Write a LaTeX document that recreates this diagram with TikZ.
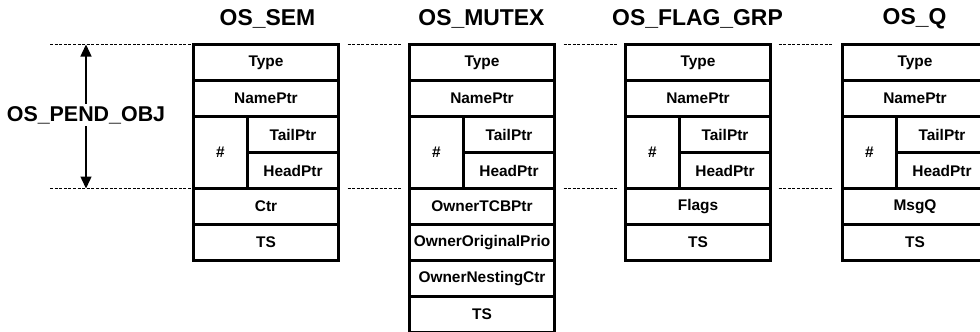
\documentclass[tikz,border=0pt]{standalone}
\usepackage{fontspec}
\setmainfont{Liberation Sans}
\usetikzlibrary{arrows.meta}
\begin{document}
\begin{tikzpicture}[x=1bp,y=-1bp,
  cell/.style={draw,line width=2.8bp,anchor=north west,inner sep=0pt,outer sep=0pt,
    minimum width=145bp,minimum height=36bp,font=\fontsize{15.5}{18}\selectfont\bfseries},
  half/.style={cell,minimum width=91bp},
  hash/.style={cell,minimum width=54bp,minimum height=72bp},
  title/.style={font=\fontsize{23}{26}\selectfont\bfseries,inner sep=0pt},
  guide/.style={line width=1bp,dash pattern=on 3bp off 1.6bp}]
\clip (0,0) rectangle (980,331);
% ---------- OS_SEM ----------
\node[cell] (s1) at (193.5,44.5) {Type};
\node[cell] (s2) at (193.5,80.5) {NamePtr};
\node[hash] (s3) at (193.5,116.5) {\#};
\node[half] (s4) at (247.5,116.5) {TailPtr};
\node[half] (s5) at (247.5,152.5) {HeadPtr};
\node[cell] (s6) at (193.5,188.5) {Ctr};
\node[cell] (s7) at (193.5,224.5) {TS};
\node[title] (ts) at (267.5,19) {OS\_SEM};
% ---------- OS_MUTEX ----------
\node[cell] (m1) at (409.5,44.5) {Type};
\node[cell] (m2) at (409.5,80.5) {NamePtr};
\node[hash] (m3) at (409.5,116.5) {\#};
\node[half] (m4) at (463.5,116.5) {TailPtr};
\node[half] (m5) at (463.5,152.5) {HeadPtr};
\node[cell] (m6) at (409.5,188.5) {OwnerTCBPtr};
\node[cell] (m7) at (409.5,224.5) {OwnerOriginalPrio};
\node[cell] (m8) at (409.5,260.5) {OwnerNestingCtr};
\node[cell] (m9) at (409.5,296.5) {TS};
\node[title] (tm) at (481.5,19) {OS\_MUTEX};
% ---------- OS_FLAG_GRP ----------
\node[cell] (f1) at (625.5,44.5) {Type};
\node[cell] (f2) at (625.5,80.5) {NamePtr};
\node[hash] (f3) at (625.5,116.5) {\#};
\node[half] (f4) at (679.5,116.5) {TailPtr};
\node[half] (f5) at (679.5,152.5) {HeadPtr};
\node[cell] (f6) at (625.5,188.5) {Flags};
\node[cell] (f7) at (625.5,224.5) {TS};
\node[title] (tf) at (697.5,19) {OS\_FLAG\_GRP};
% ---------- OS_Q ----------
\node[cell] (q1) at (842.5,44.5) {Type};
\node[cell] (q2) at (842.5,80.5) {NamePtr};
\node[hash] (q3) at (842.5,116.5) {\#};
\node[half] (q4) at (896.5,116.5) {TailPtr};
\node[half] (q5) at (896.5,152.5) {HeadPtr};
\node[cell] (q6) at (842.5,188.5) {MsgQ};
\node[cell] (q7) at (842.5,224.5) {TS};
\node[title] (tq) at (914.5,19) {OS\_Q};
% ---------- guides ----------
\coordinate (gl1) at (50,44.5);
\coordinate (gl2) at (50,188.5);
\draw[guide] (gl1) -- (s1.north west);
\draw[guide] (gl2) -- (s6.north west);
\draw[guide] ([xshift=9bp]s1.north east) -- ([xshift=-9bp]m1.north west);
\draw[guide] ([xshift=9bp]s6.north east) -- ([xshift=-9bp]m6.north west);
\draw[guide] ([xshift=9bp]m1.north east) -- ([xshift=-8bp]f1.north west);
\draw[guide] ([xshift=9bp]m6.north east) -- ([xshift=-8bp]f6.north west);
\draw[guide] ([xshift=8bp]f1.north east) -- ([xshift=-9bp]q1.north west);
\draw[guide] ([xshift=8bp]f6.north east) -- ([xshift=-9bp]q6.north west);
% ---------- OS_PEND_OBJ dimension ----------
\coordinate (at) at (86,44.5);
\coordinate (ab) at (86,188.5);
\draw[line width=1.4bp,{Triangle[length=12bp,width=11bp]}-{Triangle[length=12bp,width=11bp]}] (at) -- (ab);
\node[fill=white,inner sep=2bp,font=\fontsize{21.5}{24}\selectfont\bfseries] (po) at (86,115) {OS\_PEND\_OBJ};
\end{tikzpicture}
\end{document}
